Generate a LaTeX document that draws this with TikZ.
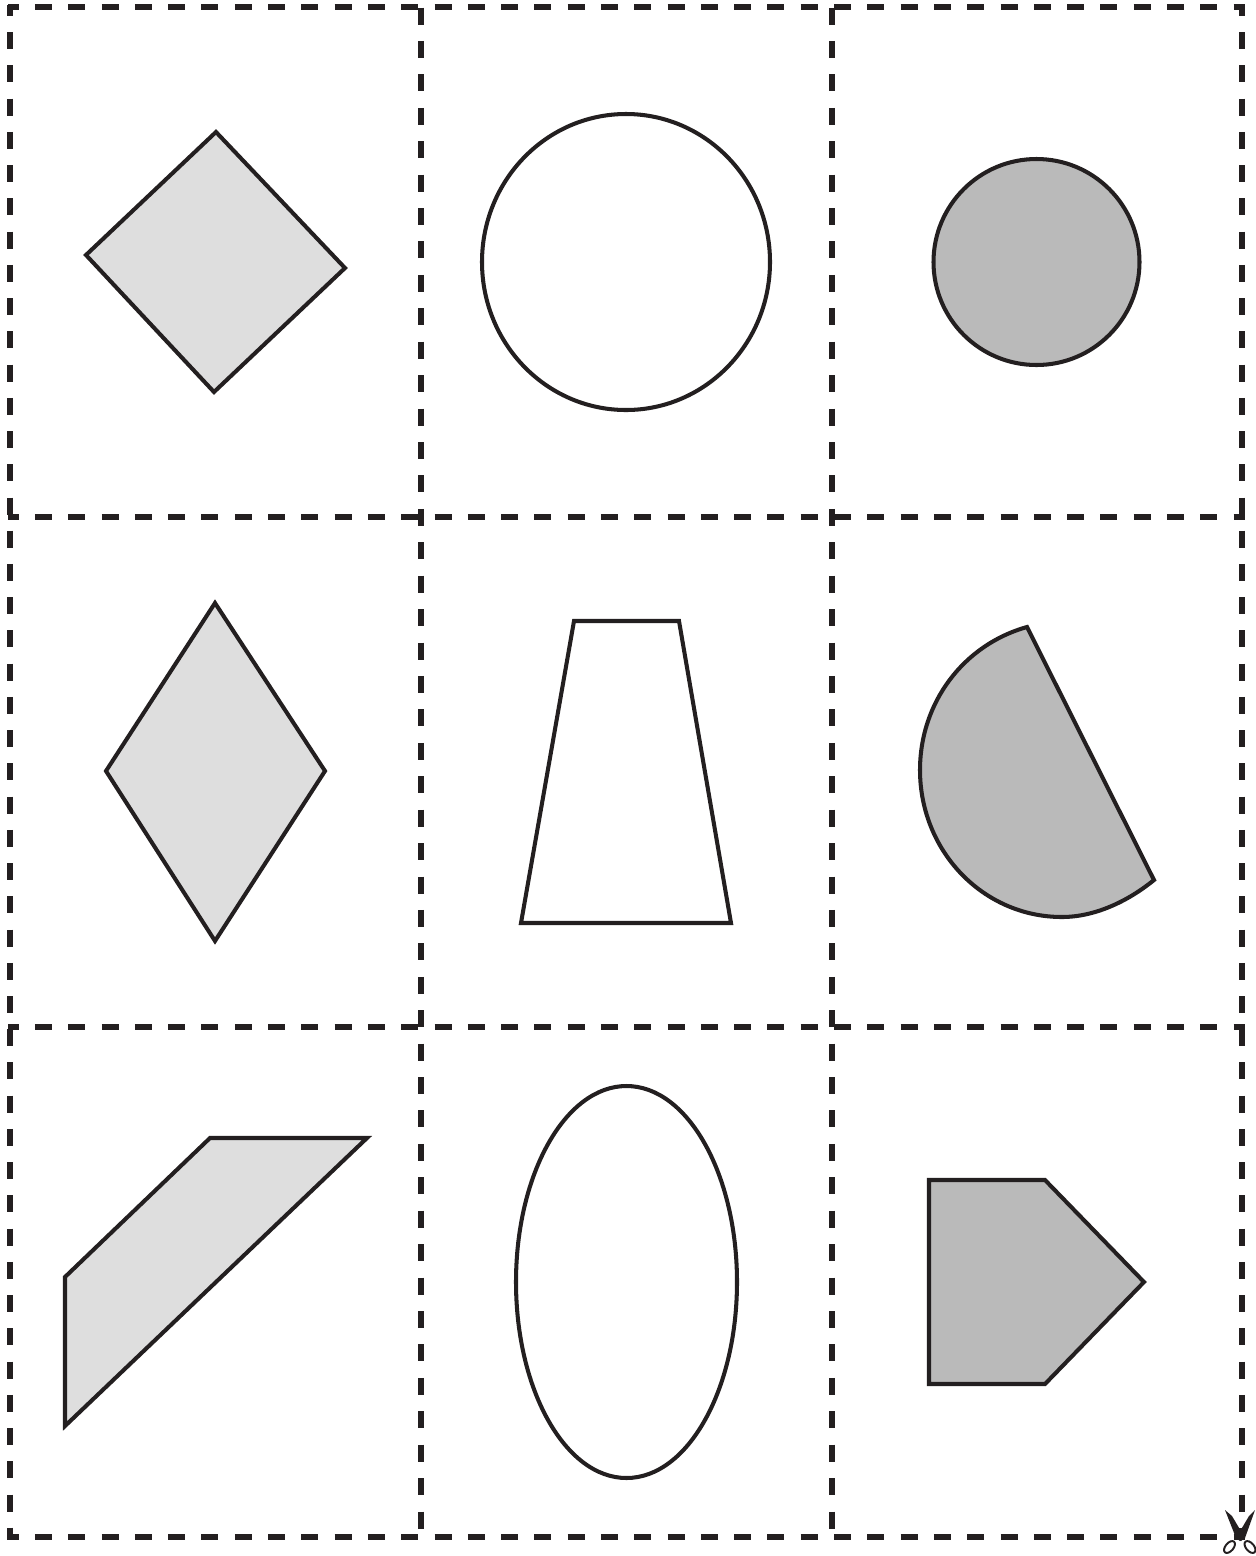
\documentclass[tikz,border=0pt]{standalone}
\usepackage{tikz}
\usetikzlibrary{calc}
\definecolor{lightgr}{HTML}{DEDEDE}
\definecolor{darkgr}{HTML}{BABABA}
\definecolor{inkc}{HTML}{231F20}
\tikzset{
  cutline/.style={inkc,line width=3.2pt},
  rowcut/.style={cutline,dash pattern=on 0.34cm off 0.326cm,dash phase=0.126cm},
  outercut/.style={cutline,dash pattern=on 0.34cm off 0.3248cm,dash phase=0.12cm},
  innercut/.style={cutline,dash pattern=on 0.34cm off 0.3286cm},
  face/.style={draw=inkc,line width=2.3pt,line join=miter},
  lightface/.style={face,fill=lightgr},
  darkface/.style={face,fill=darkgr},
  whiteface/.style={face,fill=white},
  blade/.style={fill=inkc,draw=none},
  grip/.style={draw=inkc,line width=1.1pt}
}
\begin{document}
\begin{tikzpicture}[x=0.02cm,y=-0.02cm]
\useasboundingbox (0,0) rectangle (1255,1556);
% cutting grid
\foreach \cx in {10,1242}
  \draw[outercut] (\cx,5)--(\cx,1540);
\foreach \cx in {421,832}
  \draw[innercut] (\cx,7.5)--(\cx,1531);
\foreach \cy in {7,517,1027,1537}
  \draw[rowcut] (8,\cy)--(1245,\cy);
% left column
\draw[lightface] (216,132)--(345,268)--(214,392)--(86,255)--cycle;
\draw[lightface] (215,603)--(325,771)--(215,941)--(106,771)--cycle;
\draw[lightface] (210,1138)--(367,1138)--(65,1426)--(65,1277)--cycle;
% middle column
\draw[whiteface] (626,262) ellipse [x radius=144,y radius=148];
\draw[whiteface] (574,621)--(679,621)--(731,923)--(521,923)--cycle;
\draw[whiteface] (626.5,1282) ellipse [x radius=110.5,y radius=196];
% right column
\draw[darkface] (1036.5,262) circle [radius=103];
\draw[darkface] (1027,627) .. controls (963,645) and (920,703) .. (920,770)
  .. controls (920,851) and (983,917) .. (1062,917)
  .. controls (1094,917) and (1127,902) .. (1154,880)--cycle;
\draw[darkface] (929,1180)--(1045,1180)--(1144,1282)--(1045,1384)--(929,1384)--cycle;
% scissors
\fill[blade] (1225,1510)--(1232,1516)--(1245,1538)--(1241,1541)--(1236,1538)--cycle;
\fill[blade] (1255,1510)--(1249,1516)--(1236,1538)--(1240,1541)--(1245,1538)--cycle;
\draw[grip,rotate around={50:(1229.5,1547)}] (1229.5,1547) ellipse [x radius=7,y radius=4];
\draw[grip,rotate around={-50:(1250,1547)}] (1250,1547) ellipse [x radius=7,y radius=4];
\end{tikzpicture}
\end{document}
